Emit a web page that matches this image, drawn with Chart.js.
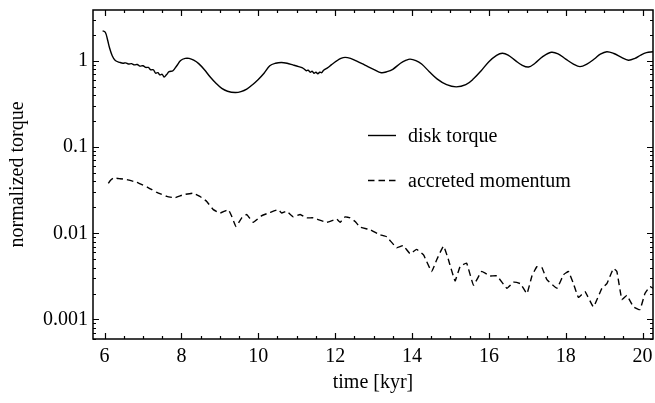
<!DOCTYPE html>
<html>
<head>
<meta charset="utf-8">
<script src="https://cdn.jsdelivr.net/npm/chart.js@4/dist/chart.umd.min.js"></script>
<style>
  body { margin: 0; background: #fff; }
  #plot { display: block; }
</style>
</head>
<body>
<canvas id="plot" width="655" height="403"></canvas>
<script>
// datos
const diskTime = [5.95, 6.02, 6.08, 6.13, 6.20, 6.28, 6.40, 6.48, 6.55, 6.62, 6.70, 6.78, 6.85, 6.92, 7.00, 7.07,
  7.14, 7.20, 7.27, 7.33, 7.39, 7.44, 7.50, 7.55, 7.61, 7.68, 7.78, 7.88, 7.98, 8.10, 8.20, 8.32, 8.45, 8.60, 8.75,
  8.90, 9.05, 9.20, 9.40, 9.55, 9.70, 9.85, 10.00, 10.15, 10.30, 10.45, 10.60, 10.75, 10.90, 11.05, 11.15, 11.20,
  11.25, 11.30, 11.35, 11.40, 11.45, 11.50, 11.55, 11.60, 11.65, 11.70, 11.80, 11.90, 12.04, 12.15, 12.26, 12.40,
  12.55, 12.70, 12.85, 13.00, 13.20, 13.35, 13.50, 13.70, 13.85, 13.95, 14.10, 14.25, 14.45, 14.65, 14.90, 15.15,
  15.40, 15.60, 15.80, 16.00, 16.20, 16.35, 16.50, 16.70, 16.85, 17.03, 17.20, 17.40, 17.62, 17.80, 18.00, 18.20,
  18.37, 18.55, 18.75, 18.90, 19.07, 19.25, 19.45, 19.63, 19.80, 19.95, 20.10, 20.27];
const diskTorque = [2.24, 2.15, 1.75, 1.42, 1.15, 1.01, 0.96, 0.94, 0.95, 0.92, 0.93, 0.90, 0.91, 0.87, 0.88, 0.84,
  0.84, 0.79, 0.79, 0.72, 0.73, 0.69, 0.70, 0.65, 0.69, 0.75, 0.77, 0.88, 1.01, 1.07, 1.07, 1.02, 0.93, 0.79, 0.65,
  0.55, 0.48, 0.445, 0.43, 0.44, 0.47, 0.53, 0.61, 0.72, 0.88, 0.94, 0.96, 0.94, 0.90, 0.86, 0.83, 0.80,
  0.77, 0.78, 0.74, 0.76, 0.72, 0.74, 0.71, 0.74, 0.73, 0.78, 0.83, 0.90, 1.00, 1.07, 1.10, 1.07,
  1.00, 0.93, 0.86, 0.80, 0.73, 0.75, 0.80, 0.94, 1.02, 1.05, 1.01, 0.92, 0.75, 0.62, 0.53, 0.50,
  0.53, 0.62, 0.77, 0.98, 1.16, 1.23, 1.17, 1.00, 0.90, 0.85, 0.94, 1.12, 1.26, 1.21, 1.05, 0.92,
  0.86, 0.92, 1.06, 1.20, 1.28, 1.22, 1.10, 1.02, 1.07, 1.17, 1.25, 1.28];

const accTime = [6.10, 6.15, 6.23, 6.40, 6.58, 6.84, 7.11, 7.36, 7.62, 7.83, 8.05, 8.31, 8.48, 8.66, 8.83, 9.01,
  9.22, 9.31, 9.42, 9.57, 9.70, 9.87, 10.09, 10.30, 10.52, 10.61, 10.74, 10.91, 11.09, 11.26, 11.43, 11.78,
  12.04, 12.13, 12.26, 12.39, 12.52, 12.65, 12.91, 13.17, 13.34, 13.60, 13.77, 13.95, 14.12, 14.30, 14.51,
  14.64, 14.82, 14.95, 15.12, 15.25, 15.42, 15.60, 15.81, 16.03, 16.21, 16.47, 16.64, 16.82, 16.99, 17.12,
  17.25, 17.38, 17.51, 17.77, 17.94, 18.07, 18.20, 18.33, 18.50, 18.72, 18.94, 19.07, 19.24, 19.33, 19.46,
  19.59, 19.76, 19.93, 20.06, 20.19, 20.27];
const accMomentum = [0.038, 0.041, 0.0437, 0.043, 0.042, 0.039, 0.0344, 0.0298, 0.0268, 0.0258, 0.028, 0.0292,
  0.0268, 0.0234, 0.0188, 0.0172, 0.0188, 0.0157, 0.012, 0.0151, 0.0165, 0.0134, 0.016, 0.0174, 0.0188, 0.0172,
  0.018, 0.0155, 0.0165, 0.0151, 0.0151, 0.0134, 0.0146, 0.0134, 0.0155, 0.0151, 0.0137, 0.0118, 0.011, 0.0096,
  0.0091, 0.0068, 0.0072, 0.0058, 0.0065, 0.0056, 0.0036, 0.0049, 0.0071, 0.0049, 0.0028, 0.0041, 0.0045,
  0.0025, 0.0036, 0.0032, 0.0032, 0.0023, 0.0027, 0.0026, 0.0020, 0.0032, 0.0041, 0.0040, 0.0029, 0.0023,
  0.0033, 0.0036, 0.0026, 0.0018, 0.0021, 0.0014, 0.0023, 0.0026, 0.0039, 0.0036, 0.0017, 0.0019, 0.0014,
  0.0013, 0.0020, 0.0024, 0.0023];

const seriesLabels = ['disk torque', 'accreted momentum'];
const xTicks = [6, 8, 10, 12, 14, 16, 18, 20];
const yTicks = [0.001, 0.01, 0.1, 1];
const yTickLabels = ['0.001', '0.01', '0.1', '1'];

const FONT = 'Liberation Serif, Times New Roman, serif';

// marco con marcas hacia adentro en los cuatro lados
const framePlugin = {
  id: 'frame',
  afterDraw(chart) {
    const ctx = chart.ctx;
    const a = chart.chartArea;
    const xs = chart.scales.x, ys = chart.scales.y;
    ctx.save();
    ctx.strokeStyle = '#000';
    ctx.lineWidth = 1.2;
    ctx.beginPath();
    const tick = (px, len, vertical) => {
      if (vertical) {
        ctx.moveTo(px, a.bottom); ctx.lineTo(px, a.bottom - len);
        ctx.moveTo(px, a.top); ctx.lineTo(px, a.top + len);
      } else {
        ctx.moveTo(a.left, px); ctx.lineTo(a.left + len, px);
        ctx.moveTo(a.right, px); ctx.lineTo(a.right - len, px);
      }
    };
    for (let v = 6; v <= 20.25; v += 0.5) {
      const major = xTicks.includes(v);
      tick(Math.round(xs.getPixelForValue(v)) + 0.5, major ? 6 : 3, true);
    }
    for (let d = -4; d <= 0; d++) {
      for (let m = 1; m <= 9; m++) {
        const v = m * Math.pow(10, d);
        if (v < ys.min || v > ys.max) continue;
        tick(Math.round(ys.getPixelForValue(v)) + 0.5, m === 1 ? 6 : 3, false);
      }
    }
    ctx.stroke();
    ctx.lineWidth = 1.5;
    ctx.strokeRect(a.left, a.top, a.right - a.left, a.bottom - a.top);
    ctx.restore();
  }
};

// leyenda dentro del area del grafico
const legendPlugin = {
  id: 'innerLegend',
  afterDraw(chart) {
    const ctx = chart.ctx;
    ctx.save();
    ctx.font = '20px ' + FONT;
    ctx.fillStyle = '#000';
    ctx.textBaseline = 'middle';
    const rows = [135.5, 180.5];
    chart.data.datasets.forEach((ds, i) => {
      ctx.strokeStyle = '#000';
      ctx.lineWidth = ds.borderWidth;
      ctx.setLineDash(ds.borderDash || []);
      ctx.beginPath();
      ctx.moveTo(368, rows[i]);
      ctx.lineTo(396, rows[i]);
      ctx.stroke();
      ctx.setLineDash([]);
      ctx.fillText(ds.label, 408, rows[i] + 1);
    });
    ctx.restore();
  }
};

function makeData() {
  return {
    datasets: [{
      label: seriesLabels[0],
      data: diskTime.map((t, i) => ({ x: t, y: diskTorque[i] })),
      borderColor: '#000',
      borderWidth: 1.4,
      pointRadius: 0,
      tension: 0.35,
      fill: false
    }, {
      label: seriesLabels[1],
      data: accTime.map((t, i) => ({ x: t, y: accMomentum[i] })),
      borderColor: '#000',
      borderWidth: 1.4,
      borderDash: [6.5, 4],
      pointRadius: 0,
      tension: 0.1,
      fill: false
    }]
  };
}

function createChart() {
  const ctx = document.getElementById('plot').getContext('2d');
  new Chart(ctx, {
    type: 'line',
    data: makeData(),
    plugins: [framePlugin, legendPlugin],
    options: {
      responsive: false,
      animation: false,
      layout: { padding: { top: 10, right: 2, left: 0, bottom: 0 } },
      plugins: { legend: { display: false }, tooltip: { enabled: false } },
      scales: {
        x: {
          type: 'linear',
          min: 5.7,
          max: 20.27,
          grid: { display: false, drawTicks: false },
          border: { display: false },
          afterBuildTicks: s => { s.ticks = xTicks.map(v => ({ value: v })); },
          afterFit: s => { s.height = 64; s.paddingLeft = 0; s.paddingRight = 0; },
          ticks: {
            color: '#000',
            padding: 6,
            maxRotation: 0,
            font: { family: FONT, size: 20 },
            callback: v => String(v)
          },
          title: {
            display: true,
            text: 'time [kyr]',
            color: '#000',
            font: { family: FONT, size: 20 },
            padding: { top: 0, bottom: 8 }
          }
        },
        y: {
          type: 'logarithmic',
          min: 0.000593,
          max: 3.9,
          grid: { display: false, drawTicks: false },
          border: { display: false },
          afterBuildTicks: s => { s.ticks = yTicks.map(v => ({ value: v })); },
          afterFit: s => { s.width = 93; s.paddingTop = 0; s.paddingBottom = 0; },
          ticks: {
            color: '#000',
            padding: 5,
            font: { family: FONT, size: 20 },
            callback: v => {
              const i = yTicks.indexOf(v);
              return i >= 0 ? yTickLabels[i] : '';
            }
          },
          title: {
            display: true,
            text: 'normalized torque',
            color: '#000',
            font: { family: FONT, size: 20 },
            padding: { top: 6, bottom: 0 }
          }
        }
      }
    }
  });
}

document.addEventListener('DOMContentLoaded', createChart);
</script>
</body>
</html>
